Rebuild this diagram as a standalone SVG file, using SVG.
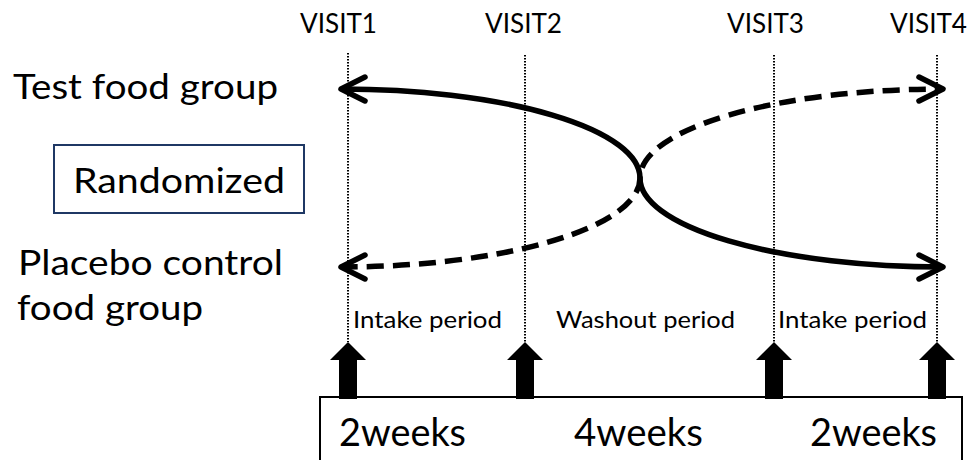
<svg xmlns="http://www.w3.org/2000/svg" width="972" height="460" viewBox="0 0 972 460">
<style>
  text { font-family: Lato, "Liberation Sans", sans-serif; fill: #000; }
  .visit { font-size: 26px; }
  .grp { font-size: 35px; }
  .per { font-size: 24px; }
  .wk { font-size: 38px; }
  .dot { stroke: #000; stroke-width: 2; stroke-dasharray: 1.5 1.5; fill: none; }
  .flow { stroke: #000; stroke-width: 5.5; fill: none; marker-start: url(#chev); marker-end: url(#chev); }
  .dash { stroke-dasharray: 17 9; }
  .up { fill: #000; }
</style>
<defs>
  <marker id="chev" markerUnits="userSpaceOnUse" orient="auto-start-reverse" refX="0" refY="0" markerWidth="40" markerHeight="40" viewBox="-30 -20 40 40" overflow="visible">
    <path d="M -24,-12 L 0,0 L -24,12" fill="none" stroke="#000" stroke-width="5.5" stroke-linecap="round" stroke-linejoin="round"/>
  </marker>
  <path id="uparrow" d="M 0,0 L 18,18 L 9,18 L 9,57 L -9,57 L -9,18 L -18,18 Z"/>
</defs>

<g id="visit-labels">
  <text class="visit" x="300" y="33" textLength="77" lengthAdjust="spacingAndGlyphs">VISIT1</text>
  <text class="visit" x="485" y="33" textLength="77" lengthAdjust="spacingAndGlyphs">VISIT2</text>
  <text class="visit" x="727" y="33" textLength="77" lengthAdjust="spacingAndGlyphs">VISIT3</text>
  <text class="visit" x="890" y="33" textLength="77" lengthAdjust="spacingAndGlyphs">VISIT4</text>
</g>

<g id="test-food-group">
  <text class="grp" x="13" y="99" textLength="265" lengthAdjust="spacingAndGlyphs">Test food group</text>
</g>

<g id="randomized">
  <rect x="54" y="145" width="250" height="68" fill="none" stroke="#1f3864" stroke-width="2"/>
  <text class="grp" x="73" y="193" textLength="212" lengthAdjust="spacingAndGlyphs">Randomized</text>
</g>

<g id="placebo-group">
  <text class="grp" x="18" y="275" textLength="265" lengthAdjust="spacingAndGlyphs">Placebo control</text>
  <text class="grp" x="17" y="320" textLength="186" lengthAdjust="spacingAndGlyphs">food group</text>
</g>

<g id="visit-lines">
  <line class="dot" x1="348" y1="53" x2="348" y2="342"/>
  <line class="dot" x1="525" y1="55" x2="525" y2="342"/>
  <line class="dot" x1="774" y1="55" x2="774" y2="342"/>
  <line class="dot" x1="937" y1="55" x2="937" y2="342"/>
</g>

<g id="connectors">
  <path class="flow" d="M 341,89 A 299,89 0 0 1 640,178 A 303,89 0 0 0 943,267"/>
  <path class="flow dash" d="M 341,267 A 299,89 0 0 0 640,178 A 303,89 0 0 1 943,89"/>
</g>

<g id="period-labels">
  <text class="per" x="353" y="328" textLength="149" lengthAdjust="spacingAndGlyphs">Intake period</text>
  <text class="per" x="556" y="328" textLength="179" lengthAdjust="spacingAndGlyphs">Washout period</text>
  <text class="per" x="778" y="328" textLength="149" lengthAdjust="spacingAndGlyphs">Intake period</text>
</g>

<g id="timeline">
  <rect x="320" y="397" width="642" height="90" fill="#fff" stroke="#000" stroke-width="2"/>
  <use href="#uparrow" class="up" x="348" y="342"/>
  <use href="#uparrow" class="up" x="525" y="342"/>
  <use href="#uparrow" class="up" x="774" y="342"/>
  <use href="#uparrow" class="up" x="937" y="342"/>
  <text class="wk" x="339" y="446" textLength="127" lengthAdjust="spacingAndGlyphs">2weeks</text>
  <text class="wk" x="574" y="446" textLength="129" lengthAdjust="spacingAndGlyphs">4weeks</text>
  <text class="wk" x="810" y="446" textLength="127" lengthAdjust="spacingAndGlyphs">2weeks</text>
</g>
</svg>
